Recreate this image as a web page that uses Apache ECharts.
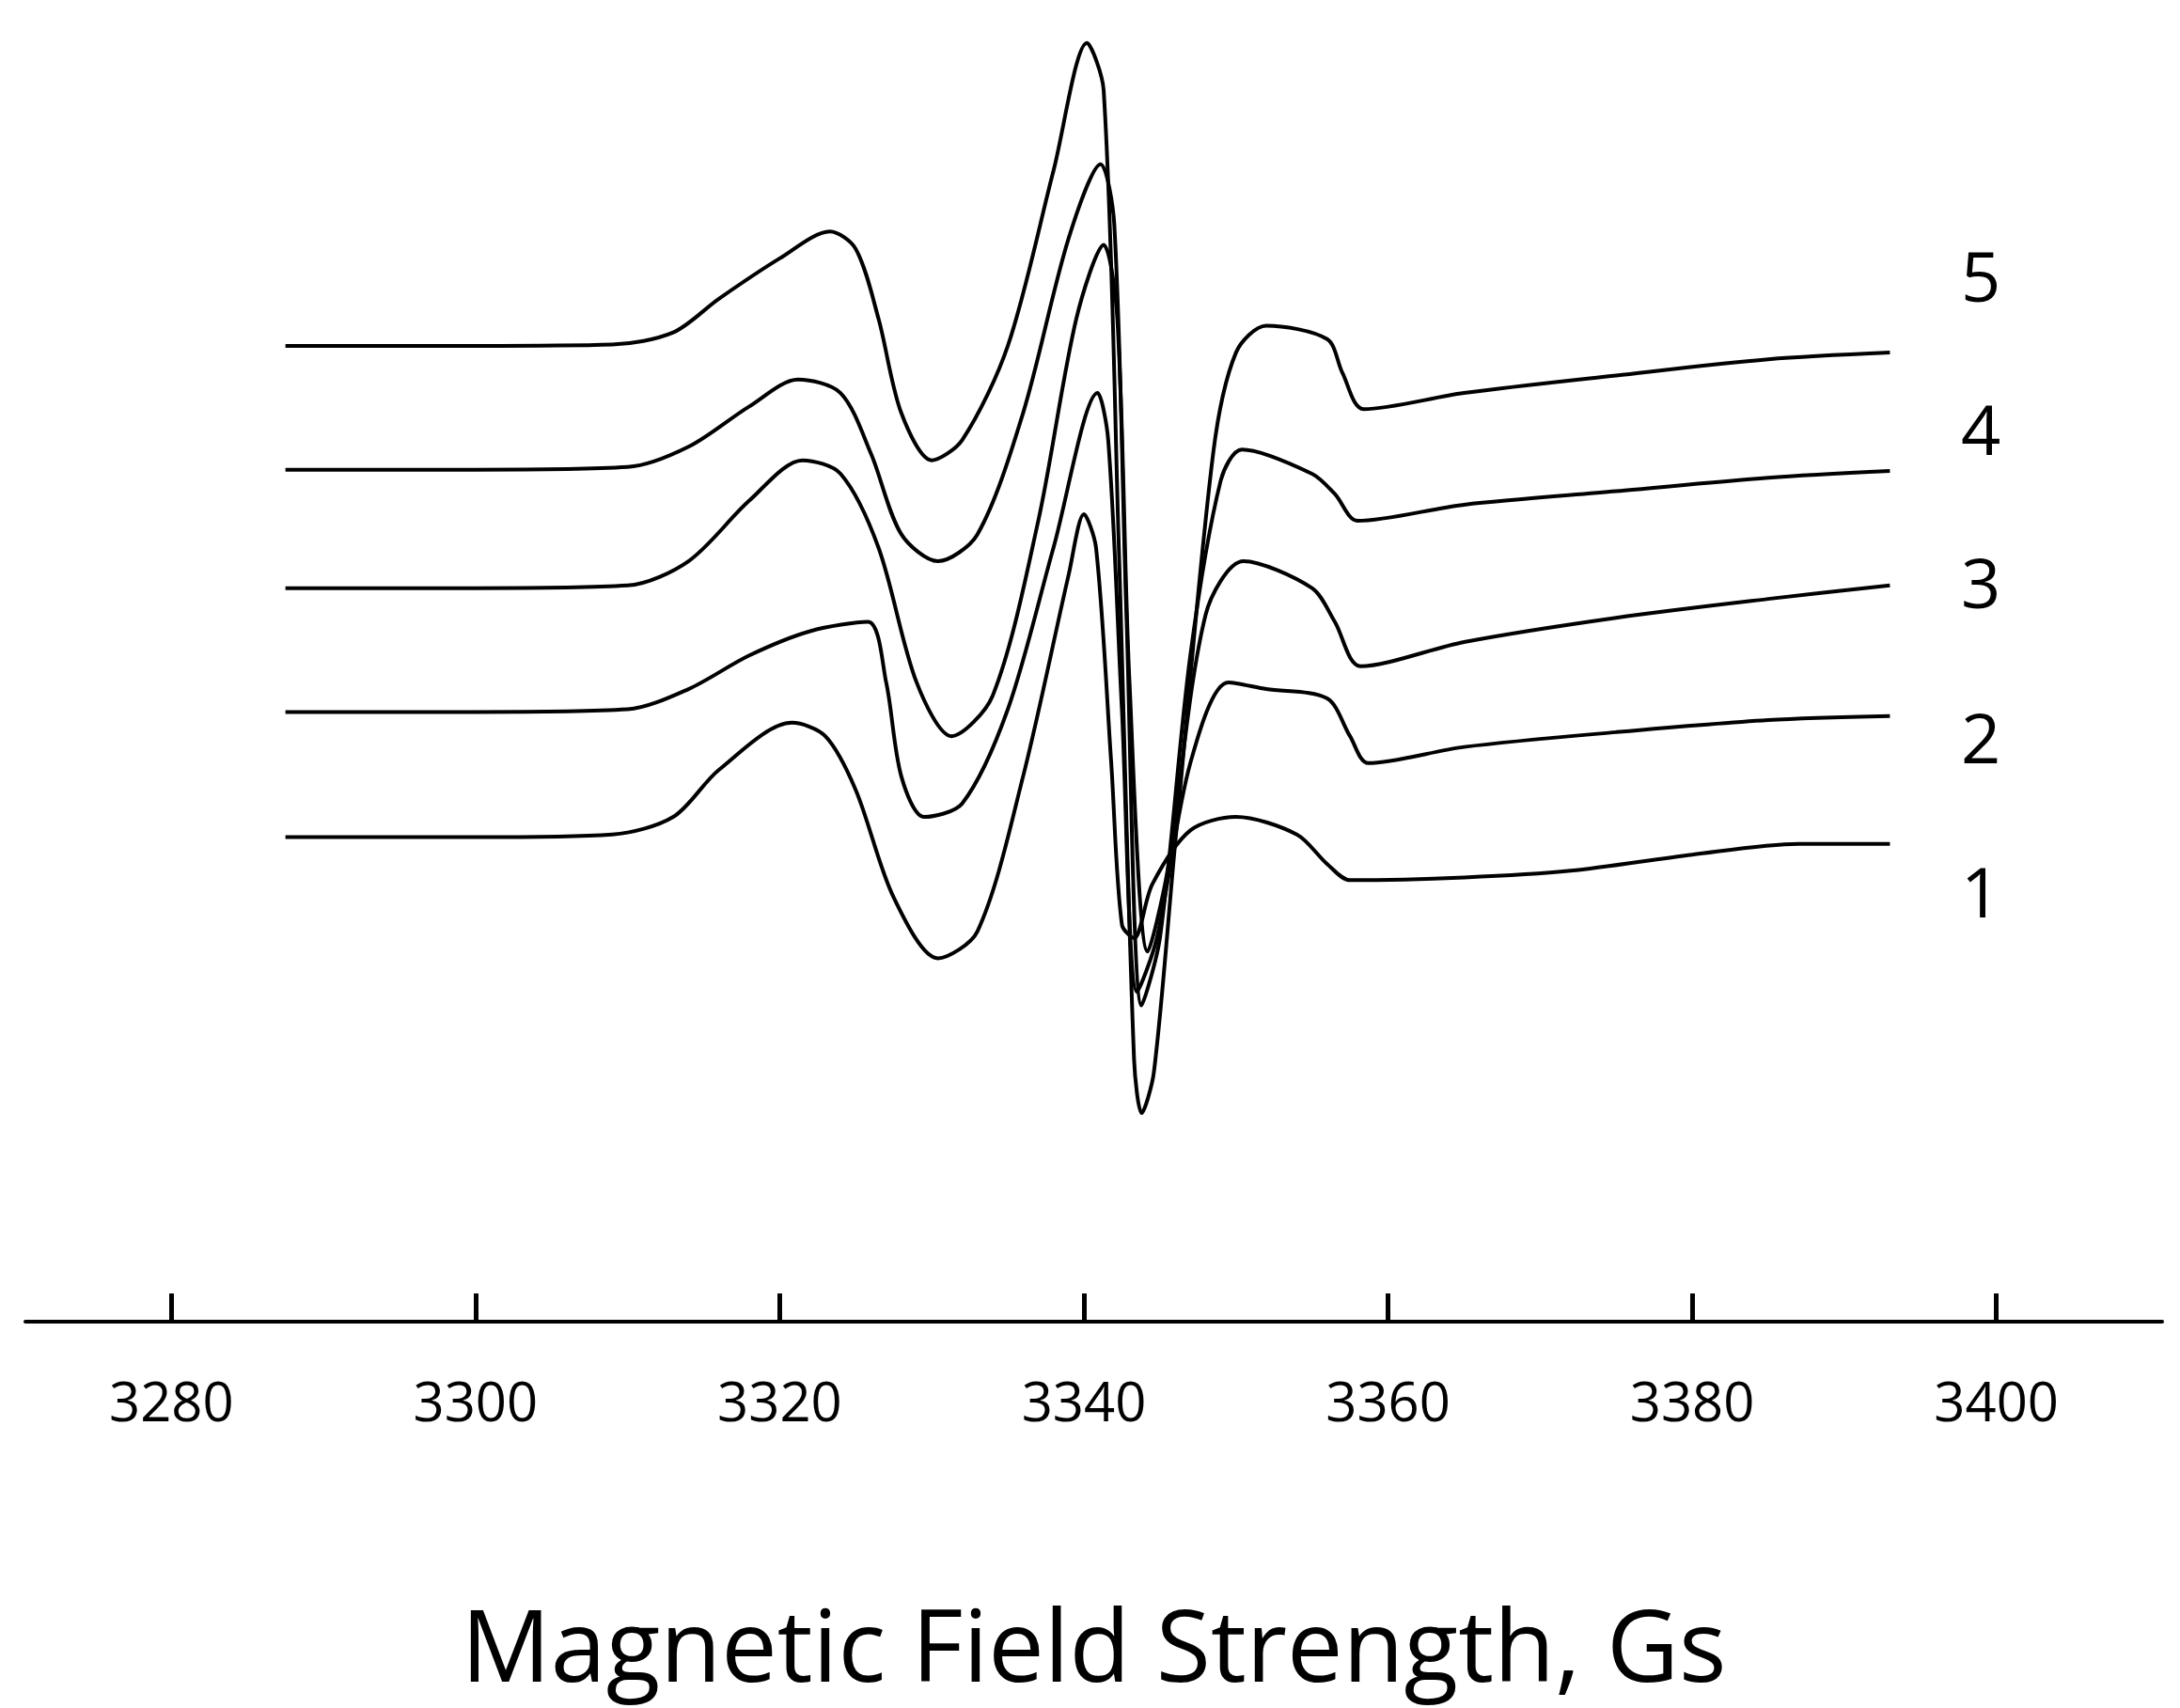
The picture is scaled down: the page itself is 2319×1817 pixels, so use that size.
<!DOCTYPE html>
<html>
<head>
<meta charset="utf-8">
<script src="https://cdn.jsdelivr.net/npm/echarts@6/dist/echarts.min.js"></script>
<style>html,body{margin:0;padding:0;background:#fff}#main{width:2319px;height:1817px}</style>
</head>
<body>
<div id="main"></div>
<script>
// field values (Gs) and vertical position (0 = top, 975 = axis line)
var tickValues = [3280, 3300, 3320, 3340, 3360, 3380, 3400];
var curveNames = ['5', '4', '3', '2', '1'];

var curve5 = [[3287.5,250],[3300,250],[3309,249],[3313,240],[3316,215],[3320,185],[3323.3,165],[3325,178],[3326.5,230],[3328,300],[3330,335],[3332,320],[3335,250],[3338,120],[3340.2,25],[3341.3,60],[3342.3,400],[3343.3,780],[3343.8,820],[3344.6,790],[3346,620],[3348.5,330],[3350,255],[3352,235],[3356,245],[3357,270],[3358.4,297],[3365,285],[3375,272],[3385,260],[3393,255]];
var curve4 = [[3287.5,342],[3300,342],[3310,340],[3314,325],[3318,295],[3321.2,275],[3324,285],[3326,330],[3328,390],[3330.4,410],[3333,390],[3336,300],[3339,170],[3341.1,115],[3342,160],[3342.8,450],[3343.8,740],[3345,690],[3347,480],[3349,350],[3350.4,327],[3355,345],[3356.5,360],[3358,380],[3365,368],[3375,358],[3385,348],[3393,343]];
var curve3 = [[3287.5,430],[3300,430],[3310,428],[3314,410],[3318,365],[3321.5,335],[3324,345],[3326.5,400],[3329,500],[3331.3,540],[3334,510],[3337,380],[3339.5,230],[3341.3,175],[3342.2,230],[3343,500],[3344.2,700],[3345.5,640],[3348,450],[3350.5,410],[3355,430],[3356.5,455],[3358.2,488],[3365,470],[3375,452],[3385,438],[3393,428]];
var curve2 = [[3287.5,522],[3300,522],[3310,520],[3314,505],[3318,480],[3322,462],[3325.8,455],[3327,500],[3328,570],[3329.5,600],[3332,590],[3335,520],[3338,400],[3340.9,285],[3341.6,320],[3342.5,520],[3343.5,730],[3344.8,690],[3347,560],[3349.5,500],[3352,505],[3356,512],[3357.5,540],[3358.7,560],[3365,548],[3375,537],[3385,528],[3393,525]];
var curve1 = [[3287.5,615],[3300,615],[3309,613],[3313,600],[3316,565],[3320.8,530],[3323,540],[3325,580],[3327.5,660],[3330.4,705],[3333,685],[3336,570],[3339,420],[3340,375],[3340.8,400],[3341.8,560],[3342.5,680],[3343.3,690],[3344.5,650],[3347,610],[3350,600],[3354,613],[3356,635],[3357.5,647],[3365,645],[3372,640],[3380,628],[3387,620],[3393,620]];

var curves = [curve5, curve4, curve3, curve2, curve1];
var labelY = [303, 466, 629, 794, 958];

var myChart = echarts.init(document.getElementById('main'));

var series = [];
for (var i = 0; i < curves.length; i++) {
    series.push({
        name: curveNames[i],
        type: 'line',
        smooth: 0.3,
        symbol: 'none',
        lineStyle: {color: '#000', width: 4},
        data: curves[i]
    });
}

var graphics = [];
for (var i = 0; i < curveNames.length; i++) {
    graphics.push({
        type: 'text',
        left: 2086,
        top: labelY[i] - 40,
        style: {text: curveNames[i], font: '74px "Open Sans"', fill: '#000'}
    });
}

var option = {
    animation: false,
    backgroundColor: '#fff',
    grid: {left: 27, right: 19, top: 10, bottom: 375},
    xAxis: {
        type: 'value',
        position: 'bottom',
        min: 3270.4,
        max: 3410.9,
        splitLine: {show: false},
        axisLine: {onZero: false, lineStyle: {color: '#000', width: 4}},
        axisTick: {inside: true, length: 30, lineStyle: {color: '#000', width: 5}, customValues: tickValues},
        axisLabel: {margin: 60, color: '#000', fontSize: 58, fontFamily: 'Open Sans', customValues: tickValues,
            formatter: function (v) { return String(v); }},
        name: 'Magnetic Field Strength, Gs',
        nameLocation: 'middle',
        nameGap: 300,
        nameTextStyle: {color: '#000', fontSize: 106, fontFamily: 'Open Sans'}
    },
    yAxis: {
        type: 'value',
        inverse: true,
        min: 0,
        max: 975,
        show: false
    },
    graphic: graphics,
    series: series
};

myChart.setOption(option);
</script>
</body>
</html>
